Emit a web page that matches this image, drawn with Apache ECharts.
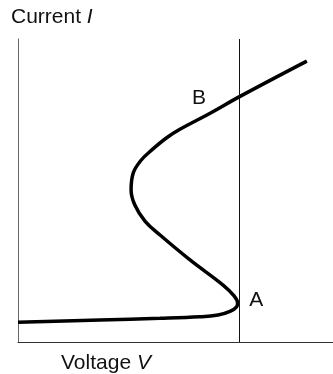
<!DOCTYPE html>
<html>
<head>
<meta charset="utf-8">
<script src="https://cdn.jsdelivr.net/npm/echarts@6/dist/echarts.min.js"></script>
<style>
  html, body { margin: 0; padding: 0; background: #fff; }
  #chart { width: 333px; height: 374px; }
</style>
</head>
<body>
<div id="chart"></div>
<script>
// S-shaped current-voltage characteristic (arbitrary units)
const voltage = [0, 2.60, 4.51, 5.78, 6.35, 6.73, 6.94, 6.97, 6.86, 6.51, 5.46, 4.51, 4.03, 3.71, 3.59, 3.66, 3.90, 4.25, 4.72, 5.14, 6.10, 7.02, 9.17];
const current = [0.65, 0.73, 0.78, 0.83, 0.89, 1.01, 1.16, 1.29, 1.52, 1.88, 2.71, 3.53, 3.99, 4.52, 5.02, 5.58, 5.99, 6.34, 6.74, 7.02, 7.55, 8.09, 9.27];

// Applied voltage drawn as a vertical line
const appliedVoltage = 7.03;

// Operating point labels
const pointNames = ['A', 'B'];
const pointVoltage = [7.56, 5.75];
const pointCurrent = [1.37, 8.05];

const axisMax = 10;

const curveData = voltage.map((v, i) => [v, current[i]]);
const pointData = pointNames.map((n, i) => ({ name: n, value: [pointVoltage[i], pointCurrent[i]] }));

const font = '"Liberation Sans", Arial, Helvetica, sans-serif';
const textColor = '#111';

const chart = echarts.init(document.getElementById('chart'));
chart.setOption({
  animation: false,
  backgroundColor: '#fff',
  grid: { left: 18, right: 0, top: 39, bottom: 32 },
  xAxis: {
    type: 'value', min: 0, max: axisMax,
    axisLine: { show: true, lineStyle: { color: '#333', width: 1 } },
    axisTick: { show: false }, axisLabel: { show: false }, splitLine: { show: false }
  },
  yAxis: {
    type: 'value', min: 0, max: axisMax,
    axisLine: { show: true, lineStyle: { color: '#666', width: 1 } },
    axisTick: { show: false }, axisLabel: { show: false }, splitLine: { show: false }
  },
  graphic: [
    {
      type: 'text', left: 11, top: 7,
      style: {
        text: 'Current {i|I}',
        font: '21px ' + font, fill: textColor,
        rich: { i: { fontStyle: 'italic', fontSize: 21, fontFamily: font, fill: textColor } }
      }
    },
    {
      type: 'text', left: 61, top: 353,
      style: {
        text: 'Voltage {i|V}',
        font: '21px ' + font, fill: textColor,
        rich: { i: { fontStyle: 'italic', fontSize: 21, fontFamily: font, fill: textColor } }
      }
    }
  ],
  series: [
    {
      type: 'line',
      data: curveData,
      smooth: 0.4,
      showSymbol: false,
      lineStyle: { color: '#000', width: 3.5 },
      markLine: {
        silent: true,
        symbol: 'none',
        label: { show: false },
        lineStyle: { color: '#111', width: 1, type: 'solid' },
        data: [{ xAxis: appliedVoltage }]
      }
    },
    {
      type: 'scatter',
      data: pointData,
      symbolSize: 1,
      itemStyle: { opacity: 0 },
      label: {
        show: true, position: 'inside', formatter: '{b}',
        fontSize: 21, fontFamily: font, color: textColor,
        textBorderWidth: 0, opacity: 1
      }
    }
  ]
});
</script>
</body>
</html>
